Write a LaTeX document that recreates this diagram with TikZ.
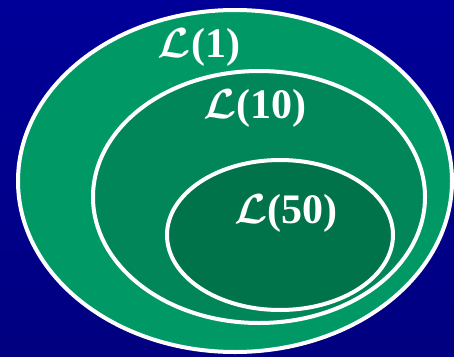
\RequirePackage{fix-cm}
\documentclass[tikz,border=0pt]{standalone}
\usepackage{fontspec}
\setmainfont{Liberation Serif}
\definecolor{fondoazul}{RGB}{0,0,153}
\definecolor{fondoazulb}{RGB}{0,0,128}
\definecolor{verdeA}{RGB}{0,153,102}
\definecolor{verdeB}{RGB}{0,134,88}
\definecolor{verdeC}{RGB}{0,115,75}
\tikzset{
  conjunto/.style={draw=white, line width=4pt},
  etiqueta/.style={text=white, font=\fontsize{42}{44}\selectfont\bfseries\boldmath, inner sep=0pt}
}
\begin{document}
\begin{tikzpicture}[x=1pt,y=-1pt]

  % Fondo
  \useasboundingbox (0,0) rectangle (454,356);
  \shade[top color=fondoazul, bottom color=fondoazulb]
    (0,0) rectangle (454,356);

  % Conjuntos anidados
  \filldraw[conjunto, fill=verdeA]
    (235,181) ellipse (217 and 171);

  \filldraw[conjunto, fill=verdeB]
    (259,197) ellipse (166 and 126);

  \filldraw[conjunto, fill=verdeC]
    (280,235) ellipse (113 and 75);

  % Etiquetas
  \node[etiqueta] (L1) at (199,47)
    {$\mathcal{L}$(1)};

  \node[etiqueta] (L10) at (255,108)
    {$\mathcal{L}$(10)};

  \node[etiqueta] (L50) at (286,213)
    {$\mathcal{L}$(50)};

\end{tikzpicture}
\end{document}
